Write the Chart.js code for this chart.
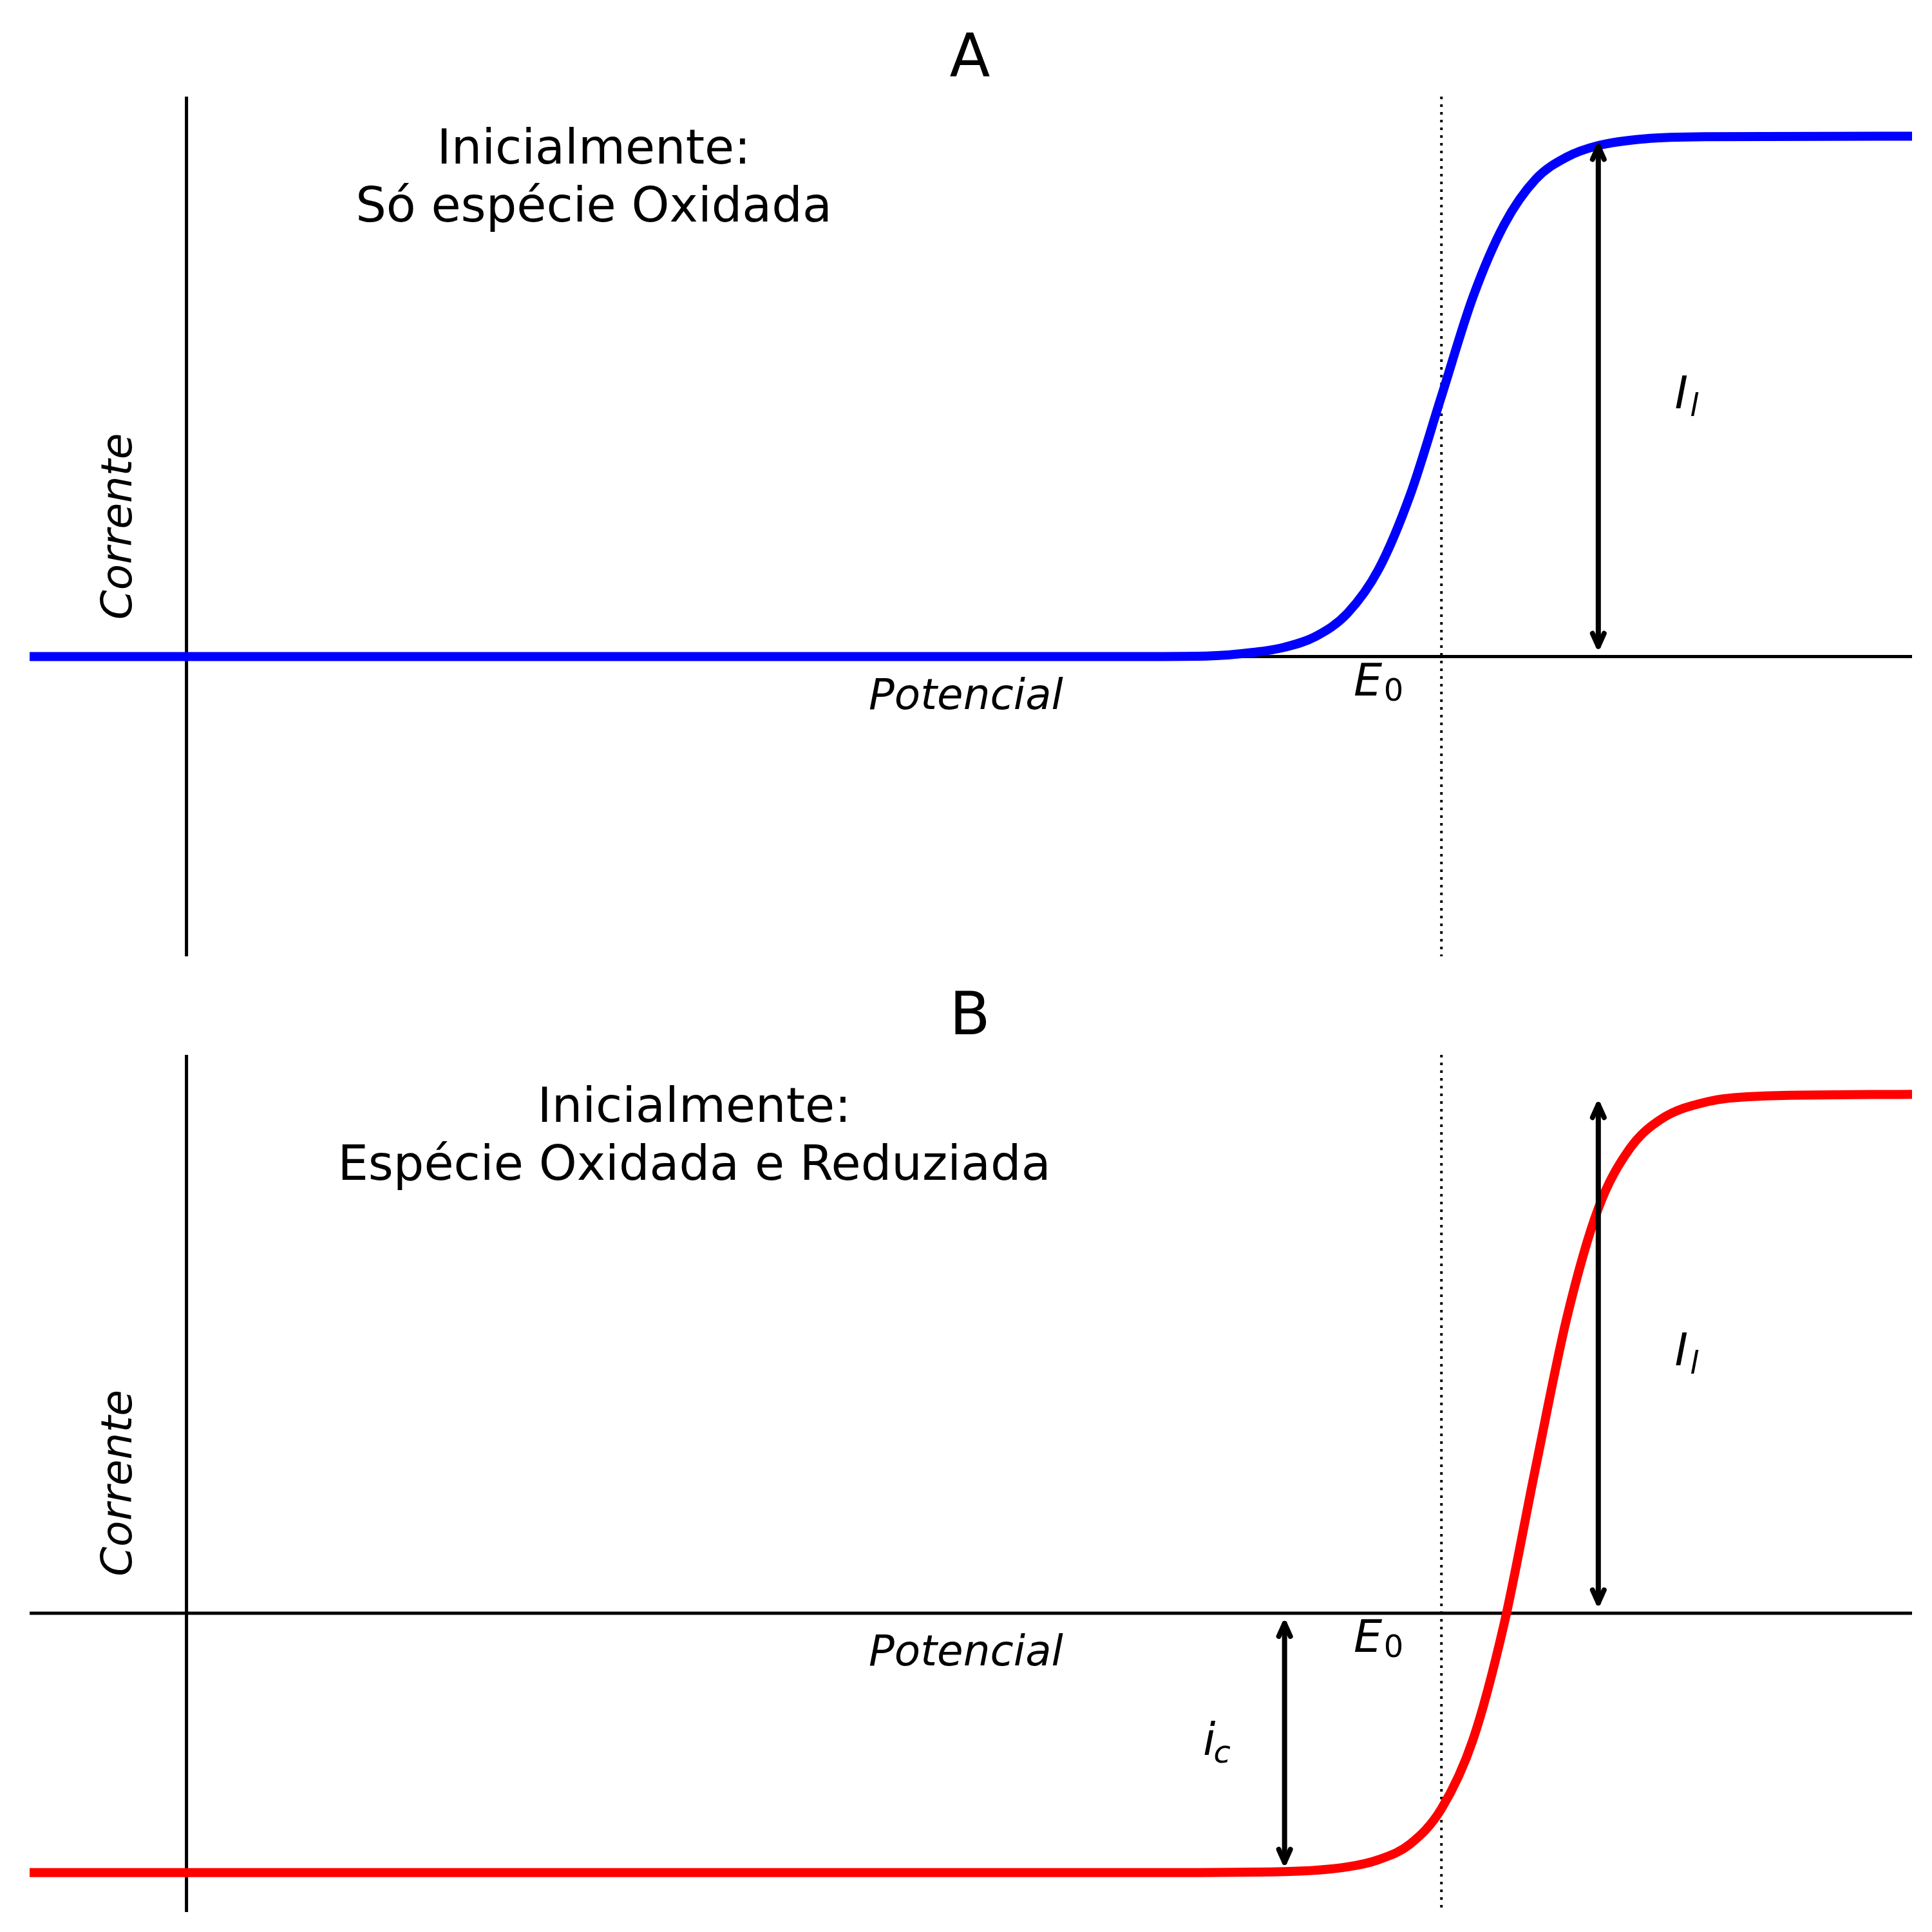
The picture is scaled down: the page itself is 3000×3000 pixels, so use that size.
<!DOCTYPE html>
<html>
<head>
<meta charset="utf-8">
<script src="https://cdn.jsdelivr.net/npm/chart.js@4"></script>
<style>
  body { margin: 0; background: #fff; }
  .box { width: 3000px; height: 1500px; }
</style>
</head>
<body>
<div class="box"><canvas id="chartA"></canvas></div>
<div class="box"><canvas id="chartB"></canvas></div>
<script>
// Painel A: só espécie oxidada
const xA = [-0.1, 0.6, 0.65, 0.68, 0.7, 0.72, 0.74, 0.76, 0.78, 0.8, 0.82, 0.84, 0.86, 0.88, 0.9, 0.93, 0.97, 1.1];
const yA = [0, 0, 0.001, 0.008, 0.018, 0.039, 0.083, 0.168, 0.31, 0.5, 0.69, 0.83, 0.917, 0.96, 0.982, 0.995, 0.999, 1];
// Painel B: espécie oxidada e reduzida
const xB = [-0.1, 0.6, 0.7, 0.74, 0.76, 0.78, 0.8, 0.82, 0.84, 0.86, 0.88, 0.9, 0.92, 0.94, 0.97, 1.0, 1.1];
const yB = [-0.5, -0.5, -0.498, -0.489, -0.475, -0.445, -0.377, -0.245, -0.02, 0.28, 0.57, 0.78, 0.895, 0.952, 0.986, 0.996, 1];
const E0 = 0.8;
const xRange = [-0.1, 1.1];
const yRange = [-0.576, 1.076];

const FONT = '"DejaVu Sans", sans-serif';

function toPoints(xs, ys) {
    return xs.map((x, i) => ({ x: x, y: ys[i] }));
}

// seta de duas pontas: yBot (pixel de baixo), yTop (pixel de cima)
function arrow(ctx, x, yBot, yTop) {
    const h = 20, w = 9;
    ctx.beginPath();
    ctx.moveTo(x, yBot); ctx.lineTo(x, yTop);
    ctx.stroke();
    [[yBot, -1], [yTop, 1]].forEach(([y, d]) => {
        ctx.beginPath();
        ctx.moveTo(x - w, y + d * h);
        ctx.lineTo(x, y);
        ctx.lineTo(x + w, y + d * h);
        ctx.stroke();
    });
}

function decoPlugin(opts) {
    return {
        id: 'deco',
        beforeDatasetsDraw(chart) {
            const c = chart.ctx, xs = chart.scales.x, ys = chart.scales.y, a = chart.chartArea;
            c.save();
            c.strokeStyle = '#000';
            c.lineWidth = 5;
            c.beginPath();
            c.moveTo(a.left, ys.getPixelForValue(0)); c.lineTo(a.right, ys.getPixelForValue(0));
            c.moveTo(xs.getPixelForValue(0), a.top); c.lineTo(xs.getPixelForValue(0), a.bottom);
            c.stroke();
            c.lineWidth = 4;
            c.setLineDash([4, 8]);
            c.beginPath();
            c.moveTo(xs.getPixelForValue(E0), a.top); c.lineTo(xs.getPixelForValue(E0), a.bottom);
            c.stroke();
            c.restore();
        },
        afterDatasetsDraw(chart) {
            const c = chart.ctx, xs = chart.scales.x, ys = chart.scales.y, a = chart.chartArea;
            const px = v => xs.getPixelForValue(v), py = v => ys.getPixelForValue(v);
            c.save();
            c.fillStyle = '#000';
            c.strokeStyle = '#000';
            c.lineWidth = 8;
            c.lineCap = 'round';
            c.lineJoin = 'round';
            opts.arrows.forEach(ar => arrow(c, px(ar[0]), py(ar[1]) - 16, py(ar[2]) + 16));
            c.textAlign = 'center';
            c.textBaseline = 'middle';
            c.font = '92px ' + FONT;
            c.fillText(opts.title, 1506, a.top - 56);
            c.font = '75px ' + FONT;
            opts.note.forEach((t, i) => c.fillText(t, opts.noteX, a.top + 85 + i * 90));
            c.font = 'italic 66px ' + FONT;
            c.fillText('Potencial', 1500, py(0) + 64);
            c.save();
            c.translate(187, py(0) - 202);
            c.rotate(-Math.PI / 2);
            c.fillText('Corrente', 0, 0);
            c.restore();
            c.font = 'italic 70px ' + FONT;
            c.fillText('E', 2124, py(0) + 42);
            c.font = '48px ' + FONT;
            c.fillText('0', 2164, py(0) + 56);
            opts.labels.forEach(l => {
                c.font = 'italic 70px ' + FONT;
                c.fillText(l[0], px(l[1]), py(l[2]));
                c.font = 'italic 48px ' + FONT;
                c.fillText(l[3], px(l[1]) + 20, py(l[2]) + 18);
            });
            c.restore();
        }
    };
}

function makeChart(id, xs, ys, color, padBottom, opts) {
    const ctx = document.getElementById(id).getContext('2d');
    return new Chart(ctx, {
        type: 'line',
        data: {
            datasets: [{
                data: toPoints(xs, ys),
                borderColor: color,
                borderWidth: 14,
                pointRadius: 0,
                cubicInterpolationMode: 'monotone',
                fill: false
            }]
        },
        options: {
            responsive: true,
            maintainAspectRatio: false,
            animation: false,
            layout: { padding: { left: 46, right: 31, top: opts.padTop, bottom: padBottom } },
            scales: {
                x: { type: 'linear', min: xRange[0], max: xRange[1], display: false },
                y: { type: 'linear', min: yRange[0], max: yRange[1], display: false }
            },
            plugins: { legend: { display: false }, tooltip: { enabled: false } }
        },
        plugins: [decoPlugin(opts)]
    });
}

makeChart('chartA', xA, yA, '#0000ff', 15, {
    padTop: 150,
    title: 'A',
    note: ['Inicialmente:', 'Só espécie Oxidada'],
    noteX: 922,
    arrows: [[0.9, 0, 1]],
    labels: [['I', 0.953, 0.5, 'l']]
});
makeChart('chartB', xB, yB, '#ff0000', 31, {
    padTop: 138,
    title: 'B',
    note: ['Inicialmente:', 'Espécie Oxidada e Reduziada'],
    noteX: 1078,
    arrows: [[0.9, 0, 1], [0.7, -0.5, 0]],
    labels: [['I', 0.953, 0.5, 'l'], ['i', 0.652, -0.25, 'c']]
});
</script>
</body>
</html>
